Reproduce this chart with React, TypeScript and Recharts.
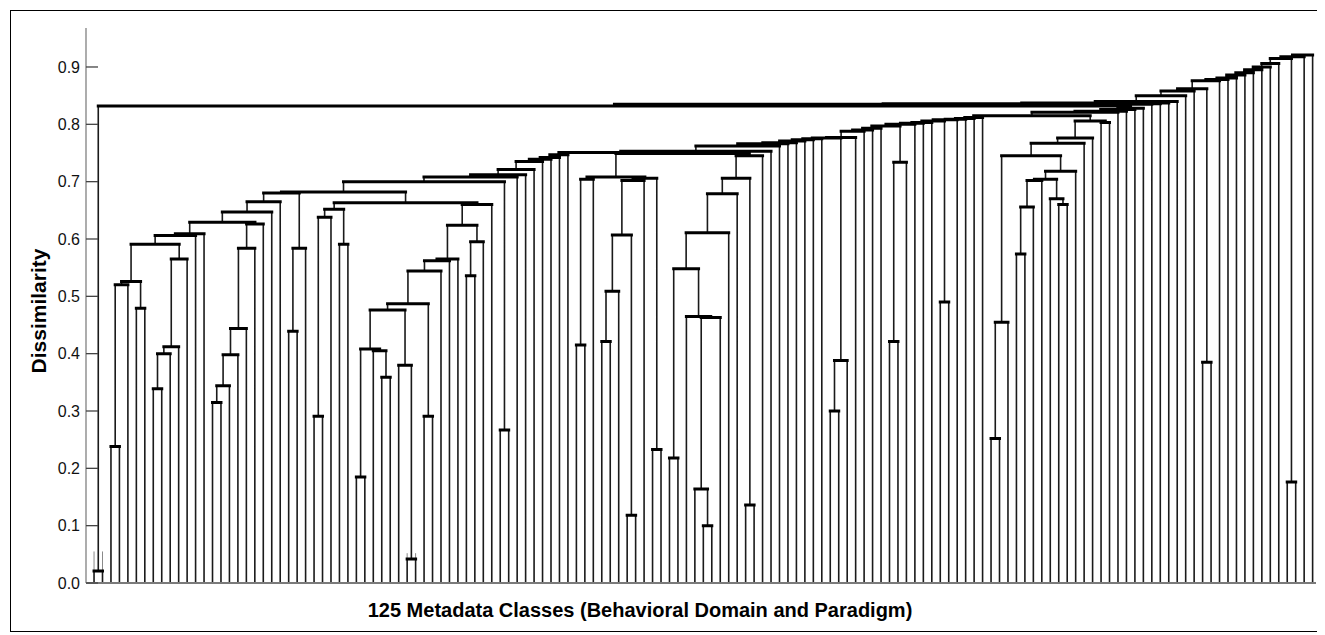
import React from 'react';
import { ComposedChart, Line, XAxis, YAxis, Label } from 'recharts';

type Ref = number | string; // number = leaf column, string = merged cluster
type Merge = [string, Ref, Ref, number];
type Step = [Ref, number];
type Pt = { x: number; y: number | null };

const leafCount = 145;
const yTicks = [0, 0.1, 0.2, 0.3, 0.4, 0.5, 0.6, 0.7, 0.8, 0.9];
const xTitle = '125 Metadata Classes (Behavioral Domain and Paradigm)';
const yTitle = 'Dissimilarity';

// leaves 0-22
const blockA: Merge[] = [
  ['A01', 0, 1, 0.021],
  ['a', 2, 3, 0.238],
  ['b', 'a', 4, 0.52],
  ['c', 5, 6, 0.479],
  ['d', 'b', 'c', 0.526],
  ['e', 7, 8, 0.339],
  ['f', 'e', 9, 0.4],
  ['g', 'f', 10, 0.412],
  ['h', 'g', 11, 0.565],
  ['P', 'd', 'h', 0.591],
  ['i1', 'P', 12, 0.606],
  ['i2', 'i1', 13, 0.609],
  ['j1', 14, 15, 0.315],
  ['j2', 'j1', 16, 0.344],
  ['j3', 'j2', 17, 0.398],
  ['j4', 'j3', 18, 0.444],
  ['j5', 'j4', 19, 0.584],
  ['j6', 'j5', 20, 0.626],
  ['Qn', 'i2', 'j6', 0.629],
  ['k1', 'Qn', 21, 0.647],
  ['k2', 'k1', 22, 0.665],
];

// leaves 23-49
const blockB: Merge[] = [
  ['l1', 23, 24, 0.439],
  ['l2', 'l1', 25, 0.584],
  ['n1', 26, 27, 0.291],
  ['n2', 'n1', 28, 0.638],
  ['n3', 29, 30, 0.591],
  ['n4', 'n2', 'n3', 0.652],
  ['o1', 31, 32, 0.185],
  ['o2', 34, 35, 0.359],
  ['o3', 33, 'o2', 0.405],
  ['o4', 'o1', 'o3', 0.408],
  ['o5', 37, 38, 0.042],
  ['o6', 36, 'o5', 0.38],
  ['o7', 'o4', 'o6', 0.476],
  ['o8', 39, 40, 0.291],
  ['o9', 'o7', 'o8', 0.487],
  ['o10', 'o9', 41, 0.544],
  ['o11', 'o10', 42, 0.562],
  ['o12', 'o11', 43, 0.565],
  ['p1', 44, 45, 0.536],
  ['p2', 'p1', 46, 0.595],
  ['p3', 'o12', 'p2', 0.624],
  ['p4', 'p3', 47, 0.66],
  ['p5', 'n4', 'p4', 0.663],
  ['q1', 'k2', 'l2', 0.68],
  ['q2', 'q1', 'p5', 0.682],
  ['r1', 48, 49, 0.267],
  ['s0', 'q2', 'r1', 0.7],
];

// s0 picks up leaves 50-56 one at a time
const sChain: Step[] = [
  [50, 0.708], [51, 0.712], [52, 0.721], [53, 0.735], [54, 0.739], [55, 0.742], [56, 0.747],
];

// leaves 57-80
const blockC: Merge[] = [
  ['u1', 57, 58, 0.415],
  ['u2', 'u1', 59, 0.704],
  ['u3', 60, 61, 0.421],
  ['u4', 'u3', 62, 0.509],
  ['u5', 63, 64, 0.118],
  ['u6', 'u4', 'u5', 0.607],
  ['u7', 'u6', 65, 0.702],
  ['u8', 66, 67, 0.233],
  ['u9', 'u7', 'u8', 0.706],
  ['C3', 'u2', 'u9', 0.708],
  ['v1', 68, 69, 0.218],
  ['v2', 72, 73, 0.1],
  ['v3', 71, 'v2', 0.164],
  ['v4', 'v3', 74, 0.463],
  ['v5', 70, 'v4', 0.465],
  ['v6', 'v1', 'v5', 0.548],
  ['v7', 'v6', 75, 0.611],
  ['v8', 'v7', 76, 0.679],
  ['v9', 77, 78, 0.136],
  ['C4', 'v8', 'v9', 0.706],
  ['C4b', 'C4', 79, 0.745],
  ['m1', 'C3', 'C4b', 0.749],
  ['m2', 'S', 'm1', 0.751],
  ['m3', 'm2', 80, 0.753],
];

// small clusters that join the long chains
const blockD: Merge[] = [
  ['w1', 87, 88, 0.3],
  ['w2', 'w1', 89, 0.388],
  ['x1', 94, 95, 0.421],
  ['x2', 'x1', 96, 0.734],
  ['y1', 100, 101, 0.49],
  ['K1', 106, 107, 0.252],
  ['K2', 'K1', 108, 0.455],
  ['K3', 109, 110, 0.574],
  ['K4', 'K3', 111, 0.656],
  ['K5', 'K4', 112, 0.702],
  ['K6', 114, 115, 0.66],
  ['K7', 113, 'K6', 0.67],
  ['K8', 'K5', 'K7', 0.704],
  ['K9', 'K8', 116, 0.718],
  ['K10', 'K2', 'K9', 0.745],
  ['K11', 'K10', 117, 0.767],
  ['K12', 'K11', 118, 0.776],
  ['K13', 119, 120, 0.803],
  ['K', 'K12', 'K13', 0.806],
  ['z1', 131, 132, 0.385],
  ['z2', 141, 142, 0.176],
];

// m3 picks up the middle of the table
const rChain: Step[] = [
  [81, 0.762], [82, 0.766], [83, 0.768], [84, 0.771], [85, 0.773], [86, 0.775],
  ['w2', 0.776], [90, 0.777], [91, 0.788], [92, 0.79], [93, 0.793], ['x2', 0.797],
  [97, 0.8], [98, 0.802], [99, 0.803], ['y1', 0.806], [102, 0.808], [103, 0.809],
  [104, 0.81], [105, 0.812], ['K', 0.815], [121, 0.821], [122, 0.823], [123, 0.826],
  [124, 0.828],
];

// top of the tree: leaves 0-1 join everything, then the right-hand outliers
const tChain: Step[] = [
  ['R', 0.832], [125, 0.835], [126, 0.836], [127, 0.837], [128, 0.84], [129, 0.85],
  [130, 0.858], ['z1', 0.862], [133, 0.876], [134, 0.878], [135, 0.881], [136, 0.886],
  [137, 0.89], [138, 0.895], [139, 0.9], [140, 0.906], ['z2', 0.915], [143, 0.918],
  [144, 0.921],
];

// short leaf ends showing above the two lowest joins
const stubs: [number, number][] = [[0, 0.055], [1, 0.055], [37, 0.052], [38, 0.052]];

const FONT = '"Liberation Sans", Arial, Helvetica, sans-serif';
const TICK_MARGIN = 6;

const chain = (start: string, steps: Step[], last: string, prefix: string): Merge[] =>
  steps.map(([ref, h], i) => [
    i === steps.length - 1 ? last : `${prefix}${i}`,
    i === 0 ? start : `${prefix}${i - 1}`,
    ref,
    h,
  ]);

const merges: Merge[] = [
  ...blockA,
  ...blockB,
  ...chain('s0', sChain, 'S', 's_'),
  ...blockC,
  ...blockD,
  ...chain('m3', rChain, 'R', 'r_'),
  ...chain('A01', tChain, 'root', 't_'),
];

const byName = new Map<string, Merge>(merges.map((m) => [m[0], m]));
const xCache = new Map<string, number>();

const posX = (ref: Ref): number => {
  if (typeof ref === 'number') return ref;
  const hit = xCache.get(ref);
  if (hit !== undefined) return hit;
  const m = byName.get(ref)!;
  const v = (posX(m[1]) + posX(m[2])) / 2;
  xCache.set(ref, v);
  return v;
};
const heightOf = (ref: Ref): number => (typeof ref === 'number' ? 0 : byName.get(ref)![3]);

const verticals: Pt[] = [];
const horizontals: Pt[] = [];
merges.forEach(([, l, r, h]) => {
  const xl = posX(l);
  const xr = posX(r);
  verticals.push({ x: xl, y: heightOf(l) }, { x: xl, y: h }, { x: xl, y: null });
  verticals.push({ x: xr, y: heightOf(r) }, { x: xr, y: h }, { x: xr, y: null });
  horizontals.push({ x: xl, y: h }, { x: xr, y: h }, { x: xr, y: null });
});

const parentHeight = new Map<number, number>();
merges.forEach(([, l, r, h]) => {
  if (typeof l === 'number') parentHeight.set(l, h);
  if (typeof r === 'number') parentHeight.set(r, h);
});
const stubPts: Pt[] = [];
stubs.forEach(([leaf, top]) => {
  stubPts.push({ x: leaf, y: parentHeight.get(leaf) ?? 0 }, { x: leaf, y: top }, { x: leaf, y: null });
});

const YTick = (props: any) => {
  const { x, y, payload } = props;
  return (
    <g>
      <line x1={x + TICK_MARGIN} x2={x + TICK_MARGIN + 12} y1={y} y2={y} stroke="#444" strokeWidth={1.3} />
      <text x={x} y={y} dy="0.355em" textAnchor="end" fontFamily={FONT} fontSize={16} fill="#111">
        {Number(payload.value).toFixed(1)}
      </text>
    </g>
  );
};

export default function App() {
  return (
    <div style={{ padding: 2 }}>
      <div style={{ width: 1310, height: 620, border: '1px solid #000', background: '#fff' }}>
        <ComposedChart width={1310} height={620} margin={{ top: 17, right: 5, bottom: 0, left: 0 }}>
          <XAxis
            type="number"
            dataKey="x"
            domain={[-0.95, leafCount - 0.6]}
            allowDataOverflow
            tick={false}
            tickLine={false}
            height={48}
            axisLine={{ stroke: '#7a7a7a', strokeWidth: 1.8 }}
          >
            <Label
              content={() => (
                <text x={629} y={606} textAnchor="middle" fontFamily={FONT} fontSize={20} fontWeight="bold" fill="#000">
                  {xTitle}
                </text>
              )}
            />
          </XAxis>
          <YAxis
            type="number"
            domain={[0, 0.968]}
            allowDataOverflow
            ticks={yTicks}
            interval={0}
            width={75}
            tickSize={0}
            tickMargin={TICK_MARGIN}
            tickLine={false}
            tick={(p: any) => <YTick {...p} />}
            axisLine={{ stroke: '#808080', strokeWidth: 1.3 }}
          >
            <Label
              content={() => (
                <text
                  transform="translate(27,300) rotate(-90)"
                  textAnchor="middle"
                  dominantBaseline="central"
                  fontFamily={FONT}
                  fontSize={21}
                  fontWeight="bold"
                  fill="#000"
                >
                  {yTitle}
                </text>
              )}
            />
          </YAxis>
          <Line
            data={stubPts}
            dataKey="y"
            stroke="#8a8a8a"
            strokeWidth={1}
            dot={false}
            activeDot={false}
            connectNulls={false}
            isAnimationActive={false}
          />
          <Line
            data={verticals}
            dataKey="y"
            stroke="#1a1a1a"
            strokeWidth={1.6}
            dot={false}
            activeDot={false}
            connectNulls={false}
            isAnimationActive={false}
          />
          <Line
            data={horizontals}
            dataKey="y"
            stroke="#000"
            strokeWidth={3}
            strokeLinecap="square"
            dot={false}
            activeDot={false}
            connectNulls={false}
            isAnimationActive={false}
          />
        </ComposedChart>
      </div>
    </div>
  );
}
